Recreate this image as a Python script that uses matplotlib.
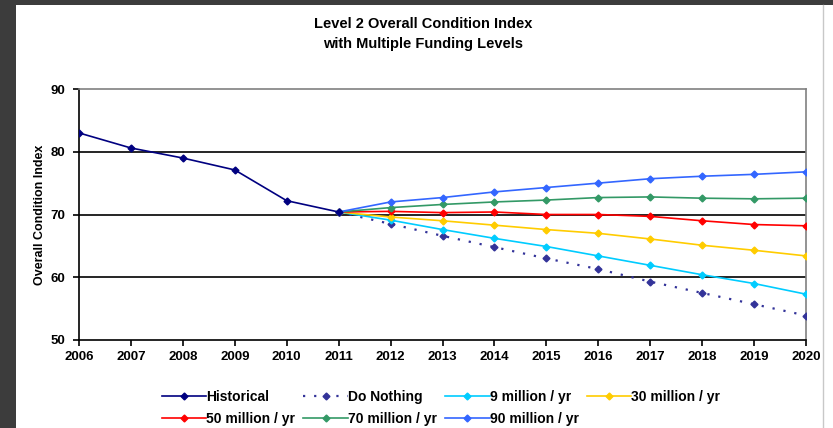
import matplotlib.pyplot as plt
from matplotlib.patches import Rectangle
from matplotlib.lines import Line2D

plt.rcParams['font.family'] = ['Liberation Sans', 'DejaVu Sans']

years = list(range(2006, 2021))
hist_years = [2006, 2007, 2008, 2009, 2010, 2011]
historical = [83.0, 80.6, 79.0, 77.1, 72.2, 70.4]

proj_years = list(range(2011, 2021))
do_nothing = [70.4, 68.5, 66.6, 64.8, 63.0, 61.3, 59.3, 57.5, 55.7, 53.9]
m9 = [70.4, 69.1, 67.6, 66.2, 64.9, 63.4, 61.9, 60.4, 59.0, 57.3]
m30 = [70.4, 69.6, 69.0, 68.3, 67.6, 67.0, 66.1, 65.1, 64.3, 63.4]
m50 = [70.4, 70.5, 70.3, 70.4, 70.0, 70.0, 69.7, 69.0, 68.4, 68.2]
m70 = [70.4, 71.1, 71.6, 72.0, 72.3, 72.7, 72.8, 72.6, 72.5, 72.6]
m90 = [70.4, 72.0, 72.7, 73.6, 74.3, 75.0, 75.7, 76.1, 76.4, 76.8]

fig = plt.figure(figsize=(8.33, 4.28), dpi=100, facecolor='#3c3c3c')
# white chart sheet inside dark frame
fig.patches.append(Rectangle((16 / 833, 0), 1 - 16 / 833, 1 - 5 / 428,
                             transform=fig.transFigure, facecolor='white',
                             edgecolor='none', zorder=-10))
fig.lines.append(Line2D([823 / 833, 823 / 833], [0, 1 - 5 / 428],
                        transform=fig.transFigure, color='#c8c8c8', lw=1, zorder=-9))

ax = fig.add_axes([79 / 833, 88 / 428, 727 / 833, 251 / 428])
ax.set_facecolor('white')

ax.plot(hist_years, historical, color='#000080', lw=1.2, marker='D', ms=3.5, label='Historical', zorder=5)
ax.plot(proj_years, do_nothing, color='#333399', lw=1.6, ls=(0, (1, 4)), marker='D', ms=3.5, label='Do Nothing', zorder=4)
ax.plot(proj_years, m9, color='#00CCFF', lw=1.2, marker='D', ms=3.5, label='9 million / yr', zorder=4)
ax.plot(proj_years, m30, color='#FFCC00', lw=1.2, marker='D', ms=3.5, label='30 million / yr', zorder=4)
ax.plot(proj_years, m50, color='#FF0000', lw=1.2, marker='D', ms=3.5, label='50 million / yr', zorder=4)
ax.plot(proj_years, m70, color='#339966', lw=1.2, marker='D', ms=3.5, label='70 million / yr', zorder=4)
ax.plot(proj_years, m90, color='#3366FF', lw=1.2, marker='D', ms=3.5, label='90 million / yr', zorder=4)

ax.set_xlim(2006, 2020)
ax.set_ylim(50, 90)
ax.set_xticks(years)
ax.set_yticks([50, 60, 70, 80, 90])
for y in [60, 70, 80]:
    ax.axhline(y, color='black', lw=1.2, zorder=1)

ax.spines['top'].set_color('#808080')
ax.spines['right'].set_color('#808080')
for s in ax.spines.values():
    s.set_linewidth(1.2)
ax.tick_params(direction='out', length=4, width=1.2, labelsize=9.5)
for lab in ax.get_xticklabels() + ax.get_yticklabels():
    lab.set_fontweight('bold')
ax.tick_params(axis='x', pad=4)
ax.tick_params(axis='y', pad=6)

ax.set_ylabel('Overall Condition Index', fontsize=9, fontweight='bold', labelpad=3)

fig.text(423 / 833, 1 - 24 / 428, 'Level 2 Overall Condition Index', ha='center', va='center',
         fontsize=10.5, fontweight='bold')
fig.text(423 / 833, 1 - 44 / 428, 'with Multiple Funding Levels', ha='center', va='center',
         fontsize=10.5, fontweight='bold')

# order so that the legend reads across rows
handles, labels = ax.get_legend_handles_labels()
order = [0, 4, 1, 5, 2, 6, 3]
leg = fig.legend([handles[i] for i in order], [labels[i] for i in order],
                 loc='center', bbox_to_anchor=(441 / 833, 1 - 408 / 428),
                 ncol=4, frameon=False, fontsize=10, handlelength=3.2, handletextpad=0.0,
                 columnspacing=0.6, labelspacing=0.6)
for t in leg.get_texts():
    t.set_fontweight('bold')

fig.savefig('out.png', dpi=100, facecolor=fig.get_facecolor())
